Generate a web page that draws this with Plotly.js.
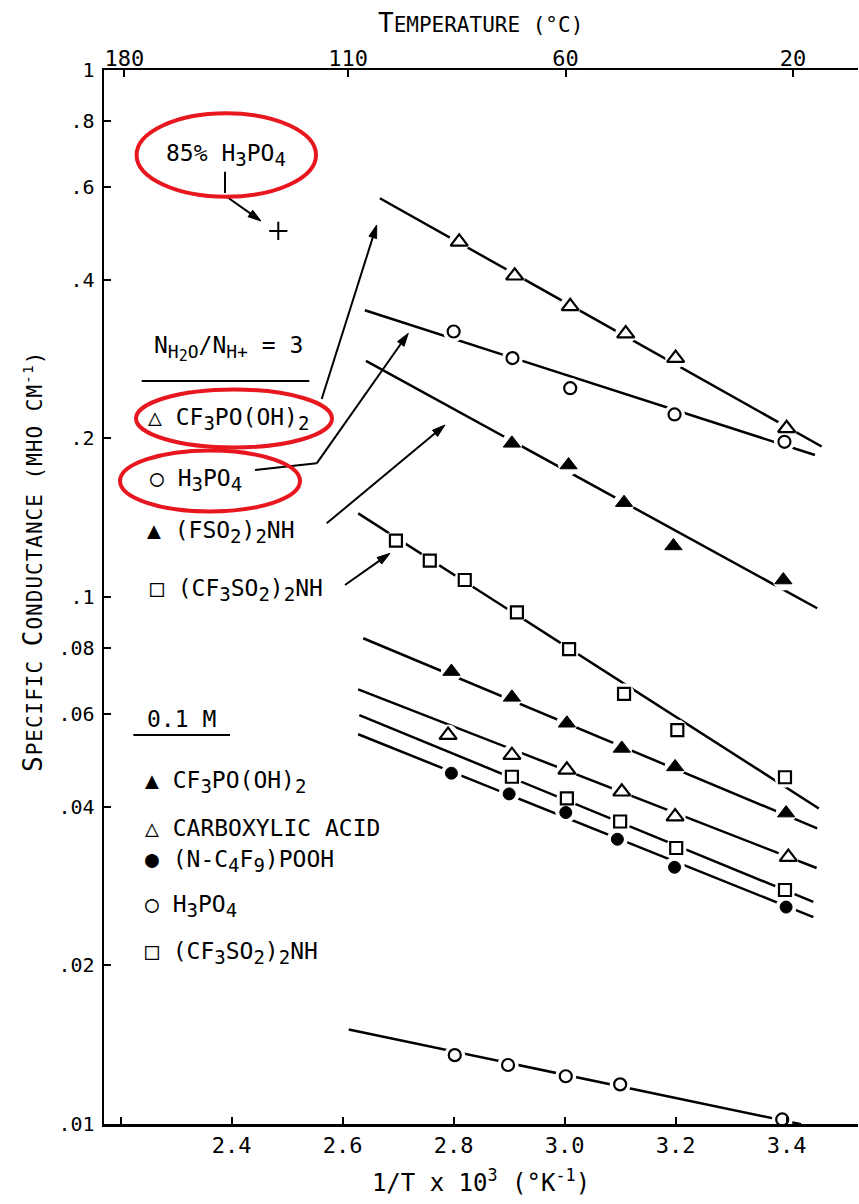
<!DOCTYPE html>
<html><head><meta charset="utf-8">
<script src="https://cdn.plot.ly/plotly-3.0.1.min.js"></script>
<style>html,body{margin:0;padding:0;background:#fff;}</style>
</head><body>
<div id="chart" style="width:859px;height:1204px;"></div>
<script>
// ---------- axis ticks ----------
const xTickVals = [2.4, 2.6, 2.8, 3.0, 3.2, 3.4];
const xTickText = ['2.4', '2.6', '2.8', '3.0', '3.2', '3.4'];
const xMinorTickVals = [2.2];
const yTickVals = [1, 0.8, 0.6, 0.4, 0.2, 0.1, 0.08, 0.06, 0.04, 0.02, 0.01];
const yTickText = ['1', '.8', '.6', '.4', '.2', '.1', '.08', '.06', '.04', '.02', '.01'];
const tempTicksC = [180, 110, 60, 20];

// ---------- N(H2O)/N(H+) = 3 ----------
const n3_cf3po_x = [2.81, 2.91, 3.01, 3.11, 3.20, 3.40];
const n3_cf3po_y = [0.472, 0.407, 0.356, 0.316, 0.284, 0.209];
const n3_cf3po_fitX = [2.667, 3.463];
const n3_cf3po_fitY = [0.571, 0.193];

const n3_h3po4_x = [2.80, 2.906, 3.01, 3.198, 3.396];
const n3_h3po4_y = [0.319, 0.284, 0.249, 0.222, 0.197];
const n3_h3po4_fitX = [2.64, 3.451];
const n3_h3po4_fitY = [0.350, 0.186];

const n3_fso2_x = [2.905, 3.007, 3.107, 3.196, 3.394];
const n3_fso2_y = [0.1957, 0.178, 0.151, 0.125, 0.1077];
const n3_fso2_fitX = [2.642, 3.455];
const n3_fso2_fitY = [0.2805, 0.0952];

const n3_cf3so2_x = [2.696, 2.757, 2.820, 2.914, 3.008, 3.107, 3.203, 3.397];
const n3_cf3so2_y = [0.1279, 0.1172, 0.1077, 0.0935, 0.0796, 0.0655, 0.0559, 0.0455];
const n3_cf3so2_fitX = [2.628, 3.458];
const n3_cf3so2_fitY = [0.1441, 0.0397];

// ---------- 0.1 M ----------
const m_cf3po_x = [2.796, 2.905, 3.004, 3.103, 3.199, 3.399];
const m_cf3po_y = [0.0722, 0.0645, 0.0576, 0.0516, 0.0476, 0.0389];
const m_cf3po_fitX = [2.637, 3.455];
const m_cf3po_fitY = [0.0835, 0.0364];

const m_carbox_x = [2.79, 2.905, 3.004, 3.103, 3.199, 3.403];
const m_carbox_y = [0.0547, 0.0501, 0.0470, 0.0427, 0.0383, 0.0321];
const m_carbox_fitX = [2.628, 3.454];
const m_carbox_fitY = [0.0668, 0.0306];

const m_cf3so2_x = [2.905, 3.004, 3.10, 3.201, 3.397];
const m_cf3so2_y = [0.0456, 0.0415, 0.0375, 0.0334, 0.0278];
const m_cf3so2_fitX = [2.630, 3.448];
const m_cf3so2_fitY = [0.0597, 0.0264];

const m_c4f9_x = [2.796, 2.90, 3.002, 3.095, 3.198, 3.399];
const m_c4f9_y = [0.0463, 0.0423, 0.0390, 0.0347, 0.0307, 0.0258];
const m_c4f9_fitX = [2.628, 3.448];
const m_c4f9_fitY = [0.0549, 0.0247];

const m_h3po4_x = [2.802, 2.898, 3.002, 3.10, 3.392];
const m_h3po4_y = [0.01351, 0.01294, 0.01232, 0.01189, 0.0102];
const m_h3po4_fitX = [2.611, 3.426];
const m_h3po4_fitY = [0.01511, 0.00999];

// ---------- 85% H3PO4 ----------
const h3po4_85_x = [2.484];
const h3po4_85_y = [0.495];

// ---------- build traces ----------
const series = [
  {x: n3_cf3po_x, y: n3_cf3po_y, fx: n3_cf3po_fitX, fy: n3_cf3po_fitY, sym: 'triangle-up', fill: false},
  {x: n3_h3po4_x, y: n3_h3po4_y, fx: n3_h3po4_fitX, fy: n3_h3po4_fitY, sym: 'circle', fill: false},
  {x: n3_fso2_x, y: n3_fso2_y, fx: n3_fso2_fitX, fy: n3_fso2_fitY, sym: 'triangle-up', fill: true},
  {x: n3_cf3so2_x, y: n3_cf3so2_y, fx: n3_cf3so2_fitX, fy: n3_cf3so2_fitY, sym: 'square', fill: false},
  {x: m_cf3po_x, y: m_cf3po_y, fx: m_cf3po_fitX, fy: m_cf3po_fitY, sym: 'triangle-up', fill: true},
  {x: m_carbox_x, y: m_carbox_y, fx: m_carbox_fitX, fy: m_carbox_fitY, sym: 'triangle-up', fill: false},
  {x: m_cf3so2_x, y: m_cf3so2_y, fx: m_cf3so2_fitX, fy: m_cf3so2_fitY, sym: 'square', fill: false},
  {x: m_c4f9_x, y: m_c4f9_y, fx: m_c4f9_fitX, fy: m_c4f9_fitY, sym: 'circle', fill: true},
  {x: m_h3po4_x, y: m_h3po4_y, fx: m_h3po4_fitX, fy: m_h3po4_fitY, sym: 'circle', fill: false}
];
const symSize = {'triangle-up': 15, 'circle': 12, 'square': 12};

const traces = [];
series.forEach(s => traces.push({
  x: s.fx, y: s.fy, mode: 'lines', type: 'scatter', hoverinfo: 'skip',
  line: {color: 'black', width: 2.5}
}));
series.forEach(s => traces.push({
  x: s.x, y: s.y, mode: 'markers', type: 'scatter', hoverinfo: 'skip',
  marker: {symbol: 'circle', size: 21, color: 'white', line: {width: 0}}
}));
series.forEach(s => traces.push({
  x: s.x, y: s.y, mode: 'markers', type: 'scatter',
  marker: {symbol: s.sym, size: symSize[s.sym], color: s.fill ? 'black' : 'white',
           line: {color: 'black', width: s.fill ? 1 : 2.2}}
}));
traces.push({
  x: h3po4_85_x, y: h3po4_85_y, mode: 'markers', type: 'scatter',
  marker: {symbol: 'cross-thin-open', size: 13, color: 'black', line: {color: 'black', width: 2}}
});
// top temperature axis carrier
traces.push({x: [null], y: [null], xaxis: 'x2', mode: 'markers', hoverinfo: 'skip', showlegend: false});

// ---------- pixel helpers for layout decorations ----------
const L = 104, T = 70, W = 754, H = 1054;
const px = v => (v - L) / W;
const py = v => 1 - (v - T) / H;
const FONT = 'DejaVu Sans Mono';
const sb = t => '<sub><span style="font-size:19px">' + t + '</span></sub>';

function label(text, x, y, size) {
  return {text: text, xref: 'paper', yref: 'paper', x: px(x), y: py(y),
          xanchor: 'left', yanchor: 'middle', showarrow: false,
          font: {family: FONT, size: size || 23, color: 'black'}};
}
function seg(x0, y0, x1, y1, color, width) {
  return {type: 'line', xref: 'paper', yref: 'paper', x0: px(x0), y0: py(y0), x1: px(x1), y1: py(y1),
          line: {color: color || 'black', width: width || 2}};
}
function arrowShapes(tx, ty, hx, hy) {
  const dx = hx - tx, dy = hy - ty, len = Math.hypot(dx, dy);
  const ux = dx / len, uy = dy / len, hl = 13, hw = 4;
  const bx = hx - ux * hl, by = hy - uy * hl;
  const p1 = [bx - uy * hw, by + ux * hw], p2 = [bx + uy * hw, by - ux * hw];
  return [
    seg(tx, ty, bx + ux * 2, by + uy * 2),
    {type: 'path', xref: 'paper', yref: 'paper',
     path: 'M' + px(hx) + ',' + py(hy) + ' L' + px(p1[0]) + ',' + py(p1[1]) +
           ' L' + px(p2[0]) + ',' + py(p2[1]) + ' Z',
     fillcolor: 'black', line: {color: 'black', width: 1}}
  ];
}
function ellipse(cx, cy, rx, ry) {
  return {type: 'circle', xref: 'paper', yref: 'paper',
          x0: px(cx - rx), x1: px(cx + rx), y0: py(cy + ry), y1: py(cy - ry),
          line: {color: '#e8161e', width: 4}, fillcolor: 'rgba(0,0,0,0)'};
}

const annotations = [
  label('85% H' + sb('3') + 'PO' + sb('4'), 164, 155),
  label('N<sub><span style="font-size:18px">H</span><sub><span style="font-size:15px">2</span></sub><span style="font-size:18px">O</span></sub>/N<sub><span style="font-size:18px">H+</span></sub> = 3', 152, 349),
  label('△ CF' + sb('3') + 'PO(OH)' + sb('2'), 146, 419),
  label('○ H' + sb('3') + 'PO' + sb('4'), 148, 480),
  label('▲ (FSO' + sb('2') + ')' + sb('2') + 'NH', 145, 532),
  label('□ (CF' + sb('3') + 'SO' + sb('2') + ')' + sb('2') + 'NH', 148, 590),
  label('0.1 M', 145, 719),
  label('▲ CF' + sb('3') + 'PO(OH)' + sb('2'), 143, 782),
  label('△ CARBOXYLIC ACID', 143, 828),
  label('● (N-C' + sb('4') + 'F' + sb('9') + ')POOH', 143, 861),
  label('○ H' + sb('3') + 'PO' + sb('4'), 143, 906),
  label('□ (CF' + sb('3') + 'SO' + sb('2') + ')' + sb('2') + 'NH', 143, 953),
  {text: '<span style="letter-spacing:1px"><span style="font-size:26px">S</span>PECIFIC <span style="font-size:26px">C</span>ONDUCTANCE (MHO CM<sup>-1</sup>)</span>',
   xref: 'paper', yref: 'paper', x: px(33), y: py(562), textangle: -90,
   xanchor: 'center', yanchor: 'middle', showarrow: false,
   font: {family: FONT, size: 21, color: 'black'}},
  {text: '<span style="font-size:26px">T</span>EMPERATURE (°C)',
   xref: 'paper', yref: 'paper', x: px(480), y: py(23),
   xanchor: 'center', yanchor: 'middle', showarrow: false,
   font: {family: FONT, size: 21, color: 'black'}}
];

const shapes = [
  seg(225, 171.7, 225, 193),
  seg(255, 470, 316.7, 463.3),
  seg(141.7, 381, 309.3, 381),
  seg(133.3, 735, 230, 735)
].concat(
  arrowShapes(226.7, 196.7, 261, 221),
  arrowShapes(321.7, 399, 376.7, 225),
  arrowShapes(316.7, 463.3, 408.3, 333.3),
  arrowShapes(326.7, 523.3, 445, 425),
  arrowShapes(345, 585, 390, 553.3),
  [ellipse(226.3, 155, 89.7, 41.7),
   ellipse(234, 418.5, 98, 29),
   ellipse(210, 481, 90, 30.5)]
);

const xRange = [2.17, 2.17 + 754 / 555];
const axisCommon = {
  showgrid: false, zeroline: false, showline: true, linecolor: 'black', linewidth: 2.5,
  ticks: 'inside', ticklen: 7, tickwidth: 2, tickcolor: 'black'
};

const layout = {
  width: 859, height: 1204,
  margin: {l: L, r: 859 - L - W, t: T, b: 1204 - T - H},
  paper_bgcolor: 'white', plot_bgcolor: 'white',
  showlegend: false,
  font: {family: FONT, color: 'black', size: 20},
  xaxis: Object.assign({}, axisCommon, {
    range: xRange, tickmode: 'array', tickvals: xTickVals, ticktext: xTickText,
    minor: {tickmode: 'array', tickvals: xMinorTickVals, ticks: 'inside', ticklen: 7, tickwidth: 2, tickcolor: 'black', showgrid: false},
    tickfont: {family: FONT, size: 22},
    title: {text: '1/T x 10<sup>3</sup> (°K<sup>-1</sup>)', font: {family: FONT, size: 24}, standoff: 18}
  }),
  xaxis2: Object.assign({}, axisCommon, {
    overlaying: 'x', side: 'top', range: xRange, tickmode: 'array',
    tickvals: tempTicksC.map(t => 1000 / (t + 273.15)), ticktext: tempTicksC.map(String),
    tickfont: {family: FONT, size: 22}, ticklabelstandoff: -7
  }),
  yaxis: Object.assign({}, axisCommon, {
    type: 'log', range: [-2, 0], tickmode: 'array', tickvals: yTickVals, ticktext: yTickText,
    tickfont: {family: FONT, size: 20}, ticklabelstandoff: 3
  }),
  annotations: annotations,
  shapes: shapes
};

Plotly.newPlot('chart', traces, layout, {staticPlot: true, displayModeBar: false});
</script>
</body></html>
